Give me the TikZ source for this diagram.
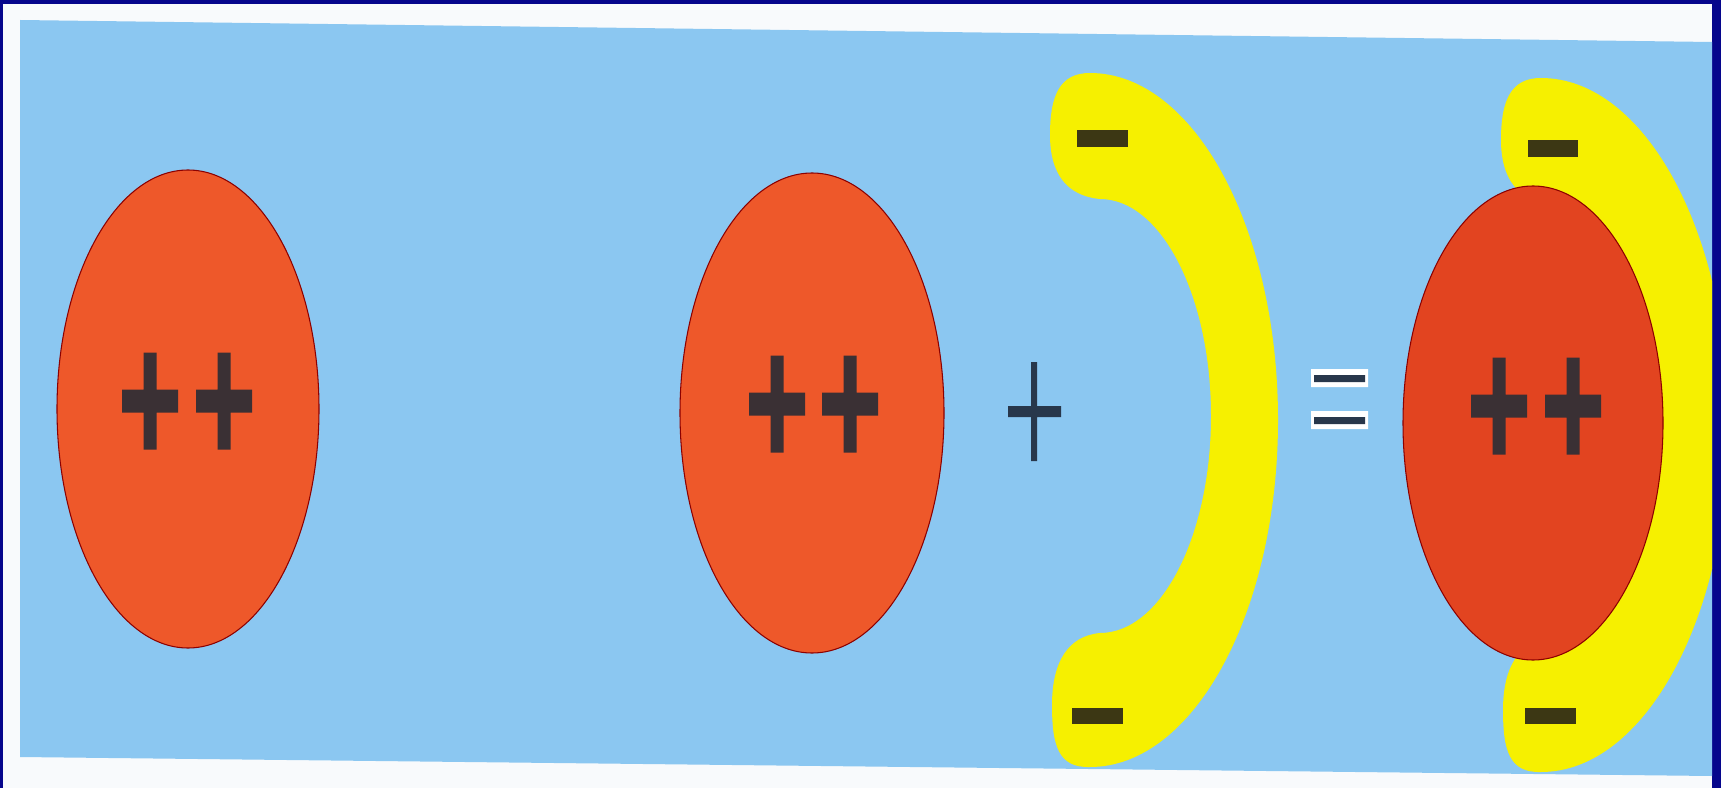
\documentclass[tikz,border=0pt]{standalone}
\usepackage{tikz}

\definecolor{frame}{RGB}{6,6,140}
\definecolor{paper}{RGB}{248,250,252}
\definecolor{sky}{RGB}{139,199,241}
\definecolor{shellyellow}{RGB}{246,240,0}
\definecolor{nucleusred}{RGB}{238,88,42}
\definecolor{nucleusdark}{RGB}{226,68,32}
\definecolor{chargedark}{RGB}{58,48,52}
\definecolor{minusdark}{RGB}{60,55,20}
\definecolor{opdark}{RGB}{40,55,75}

\tikzset{
  nucleus/.style={fill=nucleusred, draw=red!55!black, line width=0.3pt},
  shell/.style={fill=shellyellow},
  charge/.style={fill=chargedark},
  minus/.style={fill=minusdark},
}

\begin{document}
\begin{tikzpicture}[x=0.01cm, y=-0.01cm]
			\useasboundingbox (0,0) rectangle (1721,788);
			\fill[frame] (0,0) rectangle (1721,788);
			\fill[paper] (3,4) rectangle (1712,788);
			\fill[sky] (20,20) -- (1712,42) -- (1712,776) -- (20,757) -- cycle;
			% two nuclei on their own
			\fill[nucleus] (188,409) ellipse (131 and 239);
			\fill[nucleus] (812,413) ellipse (132 and 240);
			% electron shell, then the same shell behind the third nucleus
			\begin{scope}
				\clip (0,0) rectangle (1712,788);
				\foreach \dx/\dy in {0/0, 451/5}
					\fill[shell, shift={(\dx,\dy)}] (1090,73) arc[start angle=-90, end angle=90, x radius=188, y radius=347]
						.. controls (1058,768) and (1052,745) .. (1052,705)
						.. controls (1052,662) and (1068,636) .. (1100,633)
						arc[start angle=90, end angle=-90, x radius=111, y radius=217]
						.. controls (1068,196) and (1050,175) .. (1050,135)
						.. controls (1050,95) and (1060,73) .. (1090,73) -- cycle;
			\end{scope}
			\fill[nucleus, fill=nucleusdark] (1533,423) ellipse (130 and 237);
			% ++ charges
			\foreach \cx/\cy in {150/401, 224/401, 777/404, 850/404, 1499/406, 1573/406}
				\fill[charge] (\cx-6.5,\cy-48.5) rectangle (\cx+6.5,\cy+48.5) (\cx-28,\cy-11.5) rectangle (\cx+28,\cy+11.5);
			% minus charges
			\fill[minus] (1077,130) rectangle (1128,147);
			\fill[minus] (1072,708) rectangle (1123,724);
			\fill[minus] (1528,140) rectangle (1578,157);
			\fill[minus] (1525,708) rectangle (1576,724);
			% plus and equals
			\fill[opdark] (1031,362) rectangle (1037,461) (1008,406) rectangle (1061,417);
			\fill[white] (1311,369) rectangle (1368,387) (1311,411) rectangle (1368,429);
			\fill[opdark] (1314,375) rectangle (1365,382) (1314,417) rectangle (1365,424);
		\end{tikzpicture}
\end{document}
